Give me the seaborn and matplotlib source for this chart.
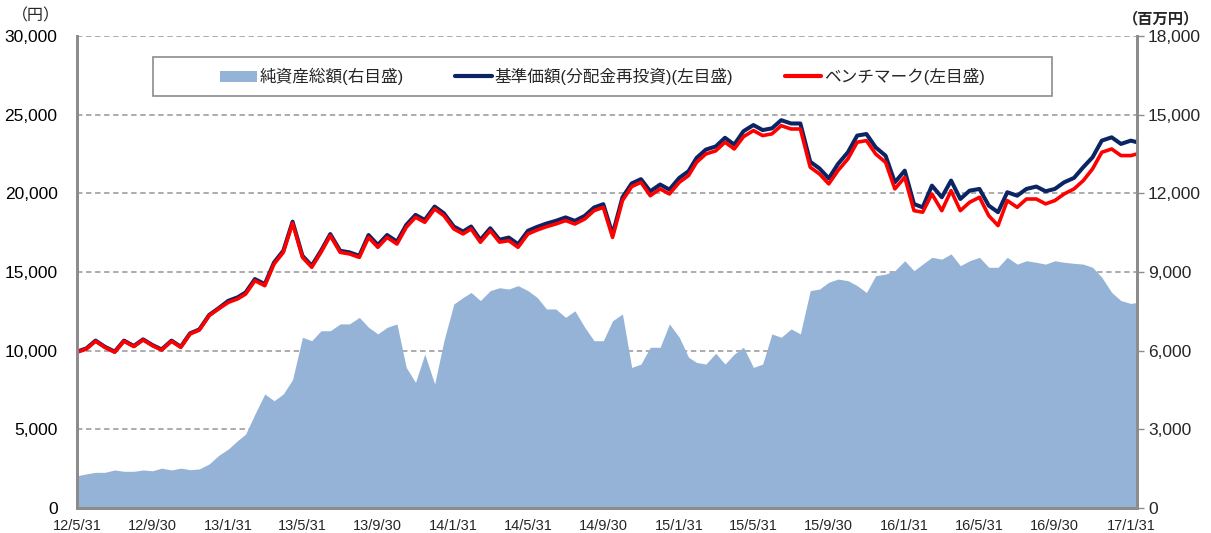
import pandas as pd
import matplotlib
matplotlib.use("Agg")
import matplotlib.pyplot as plt
import seaborn as sns
from matplotlib.lines import Line2D
from matplotlib.patches import Patch, Rectangle

# semi-monthly sample dates, 2012-05-31 .. 2017-02-10
months = pd.period_range("2012-05", "2017-01", freq="M")
dates = []
for p in months:
    dates.append(p.start_time + pd.Timedelta(days=14))
    dates.append(p.end_time.normalize())
dates = dates[1:] + [pd.Timestamp("2017-02-10")]

# 純資産総額 (百万円, right axis)
nav = [1230, 1300, 1360, 1360, 1450, 1400, 1400, 1450, 1420, 1520,
       1450, 1520, 1460, 1490, 1680, 2000, 2250, 2570, 2820, 3580,
       4350, 4090, 4350, 4900, 6510, 6380, 6760, 6760, 7020, 7020,
       7270, 6890, 6640, 6890, 7020, 5360, 4790, 5870, 4730, 6380,
       7780, 8030, 8220, 7910, 8290, 8400, 8350, 8480, 8290, 8030,
       7590, 7590, 7270, 7520, 6890, 6380, 6380, 7140, 7400, 5360,
       5490, 6130, 6130, 7020, 6510, 5750, 5550, 5490, 5900, 5490,
       5870, 6130, 5360, 5490, 6640, 6510, 6830, 6640, 8290, 8350,
       8610, 8730, 8670, 8480, 8220, 8860, 8920, 9050, 9430, 9050,
       9300, 9560, 9490, 9690, 9240, 9430, 9560, 9180, 9180, 9560,
       9300, 9430, 9370, 9300, 9430, 9370, 9330, 9300, 9180, 8800,
       8220, 7910, 7800, 7840]

# 基準価額(分配金再投資) (円, left axis)
base_price = [9940, 10140, 10640, 10250, 9940, 10640, 10300, 10720, 10360, 10080,
              10640, 10250, 11100, 11350, 12270, 12690, 13170, 13390, 13700, 14550,
              14230, 15610, 16350, 18200, 16030, 15400, 16350, 17410, 16350, 16250,
              16030, 17350, 16720, 17350, 16930, 17990, 18630, 18310, 19160, 18730,
              17890, 17570, 17890, 17040, 17780, 17050, 17190, 16770, 17620, 17870,
              18080, 18250, 18470, 18250, 18570, 19100, 19310, 17400, 19740, 20630,
              20900, 20130, 20560, 20240, 20980, 21410, 22250, 22780, 22980, 23530,
              23100, 23950, 24340, 24020, 24130, 24650, 24440, 24440, 22010, 21580,
              20950, 21870, 22610, 23670, 23770, 22920, 22390, 20700, 21440, 19320,
              19110, 20490, 19750, 20810, 19640, 20170, 20280, 19220, 18800, 20070,
              19850, 20280, 20430, 20130, 20280, 20700, 20980, 21660, 22290, 23350,
              23560, 23140, 23350, 23250]

# ベンチマーク (円, left axis)
benchmark = [9900, 10100, 10600, 10210, 9900, 10600, 10260, 10680, 10320, 10040,
             10600, 10210, 11060, 11310, 12230, 12650, 13070, 13290, 13600, 14450,
             14130, 15510, 16250, 18100, 15930, 15300, 16250, 17310, 16250, 16150,
             15930, 17200, 16570, 17200, 16780, 17840, 18480, 18160, 19010, 18580,
             17740, 17420, 17740, 16890, 17630, 16900, 16990, 16570, 17420, 17670,
             17880, 18050, 18270, 18050, 18370, 18900, 19110, 17200, 19540, 20430,
             20700, 19850, 20280, 19960, 20700, 21130, 21970, 22500, 22700, 23250,
             22820, 23600, 23990, 23670, 23780, 24300, 24090, 24090, 21660, 21230,
             20600, 21450, 22190, 23250, 23350, 22500, 21970, 20280, 21020, 18900,
             18800, 19960, 18900, 20170, 18900, 19430, 19750, 18580, 17950, 19540,
             19110, 19640, 19640, 19330, 19540, 19960, 20280, 20810, 21550, 22610,
             22820, 22400, 22400, 22500]

xtick_labels = ["12/5/31", "12/9/30", "13/1/31", "13/5/31", "13/9/30", "14/1/31",
                "14/5/31", "14/9/30", "15/1/31", "15/5/31", "15/9/30", "16/1/31",
                "16/5/31", "16/9/30", "17/1/31"]
legend_labels = ["純資産総額(右目盛)", "基準価額(分配金再投資)(左目盛)", "ベンチマーク(左目盛)"]

df = pd.DataFrame({"date": dates, "nav": nav,
                   "base": base_price, "bench": benchmark})

AREA = "#95B3D7"
NAVY = "#0B2463"
RED = "#FF0000"
GRAY = "#8C8C8C"

sns.set_theme(style="white")
plt.rcParams["font.family"] = ["Liberation Sans", "Noto Sans CJK JP", "DejaVu Sans"]

fig = plt.figure(figsize=(12.11, 5.33), dpi=100)
ax2 = fig.add_axes([77 / 1211, 25 / 533, 1060 / 1211, 472 / 533])  # area, right scale
ax = ax2.twinx()                                                    # lines, left scale
ax.yaxis.tick_left()
ax.yaxis.set_label_position("left")
ax2.yaxis.tick_right()
ax2.yaxis.set_label_position("right")
ax.set_zorder(ax2.get_zorder() + 1)
ax.patch.set_visible(False)

# area for net assets
ax2.fill_between(df["date"], 0, df["nav"], color=AREA, lw=0, zorder=2)
ax2.set_ylim(0, 18000)
ax2.set_yticks(range(0, 18001, 3000))
ax2.set_yticklabels([f"{v:,}" for v in range(0, 18001, 3000)])
ax2.grid(axis="y", color="#A6A6A6", ls=(0, (3, 2)), lw=1.3, zorder=1)
ax2.set_axisbelow(True)

# price lines
sns.lineplot(data=df, x="date", y="base", color=NAVY, lw=2.9, ax=ax)
sns.lineplot(data=df, x="date", y="bench", color=RED, lw=2.6, ax=ax)
ax.set_ylim(0, 30000)
ax.set_yticks(range(0, 30001, 5000))
ax.set_yticklabels([f"{v:,}" for v in range(0, 30001, 5000)])
ax.set_xlabel("")
ax.set_ylabel("")
ax2.set_ylabel("")

xticks = [pd.to_datetime("20" + s, format="%Y/%m/%d") for s in xtick_labels]
ax2.set_xlim(pd.Timestamp("2012-05-31"), pd.Timestamp("2017-02-10"))
ax2.set_xticks(xticks)
ax2.set_xticklabels(xtick_labels)
ax.set_xlim(ax2.get_xlim())

for a in (ax, ax2):
    a.spines["top"].set_visible(False)
    for s in ("left", "right", "bottom"):
        a.spines[s].set_color(GRAY)
        a.spines[s].set_linewidth(2)

ax.tick_params(axis="y", length=0, pad=14, labelsize=12.5, colors="black")
ax2.tick_params(axis="y", length=5, width=1, color=GRAY, pad=3, labelsize=12.5)
ax2.tick_params(axis="x", length=0, pad=8, labelsize=10.5)

# unit labels
fig.text(36 / 1211, 1 - 16 / 533, "（円）", ha="center", va="center",
         fontsize=11.5, family=["Noto Sans CJK JP"])
fig.text(1161 / 1211, 1 - 18 / 533, "（百万円）", ha="center", va="center",
         fontsize=11, fontweight="bold", family=["Noto Sans CJK JP"])

# legend
handles = [Patch(facecolor=AREA, edgecolor="none"),
           Line2D([], [], color=NAVY, lw=3),
           Line2D([], [], color=RED, lw=3)]
ax.add_patch(Rectangle((76 / 1060, (508 - 96) / 472), 899 / 1060, 39 / 472,
                       transform=ax.transAxes, facecolor="white",
                       edgecolor=GRAY, lw=1.2, zorder=5))
leg = ax.legend(handles, legend_labels, ncol=3, loc="center",
                bbox_to_anchor=(0.4958, 0.914), frameon=False, fontsize=12,
                handlelength=2.2, handletextpad=0.15, columnspacing=3.1)
leg.set_zorder(6)

fig.savefig("out.png", dpi=100)
